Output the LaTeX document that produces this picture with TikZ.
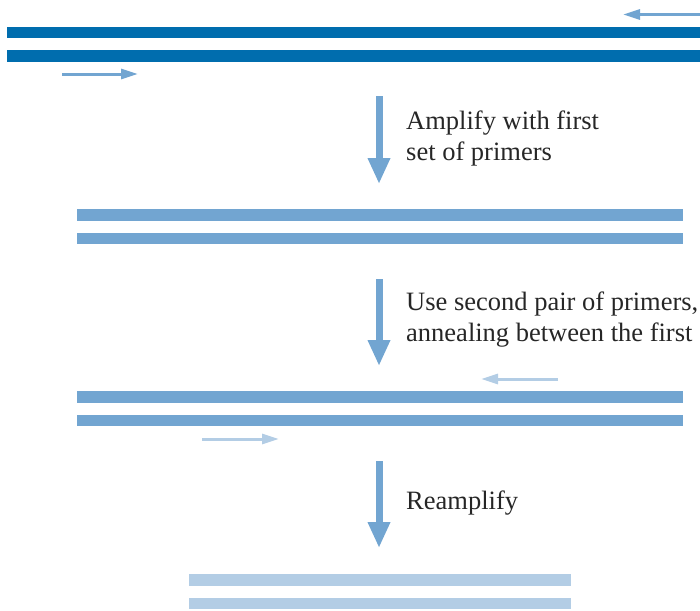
\documentclass[tikz,border=0pt]{standalone}
\usepackage{fontspec}
\setmainfont{Liberation Serif}
\usetikzlibrary{arrows.meta}
\definecolor{dnablue}{HTML}{006DAE}
\definecolor{midblue}{HTML}{72A5D1}
\definecolor{lightblue}{HTML}{B3CDE5}
\tikzset{
  bigarrow/.style={draw=midblue, line width=7pt, -{Triangle[width=21pt,length=26pt]}},
  primer/.style={line width=3pt, -{Triangle[width=10pt,length=17pt]}},
  label/.style={anchor=base west, align=left, inner sep=0pt, text=black!85,
    font=\fontsize{26.5}{31}\selectfont},
}
\begin{document}
\begin{tikzpicture}[x=1pt,y=-1pt]
\useasboundingbox (0,0) rectangle (700,610);
% first pair of strands
\fill[dnablue] (7,27) rectangle (700,38.5);
\fill[dnablue] (7,50.5) rectangle (700,62);
\coordinate (p1s) at (700,14.5);
\coordinate (p1e) at (623,14.5);
\draw[primer, midblue] (p1s) -- (p1e);
\coordinate (p2s) at (62,74);
\coordinate (p2e) at (138,74);
\draw[primer, midblue] (p2s) -- (p2e);
% step 1
\coordinate (a1s) at (379,96);
\coordinate (a1e) at (379,184);
\draw[bigarrow] (a1s) -- (a1e);
\node[label] (t1) at (406,160) {Amplify with first\\set of primers};
% second pair
\fill[midblue] (77,209) rectangle (683,220.5);
\fill[midblue] (77,232.5) rectangle (683,244);
% step 2
\coordinate (a2s) at (379,279);
\coordinate (a2e) at (379,366);
\draw[bigarrow] (a2s) -- (a2e);
\node[label] (t2) at (406,341) {Use second pair of primers,\\annealing between the first};
% third pair
\fill[midblue] (77,391) rectangle (683,402.5);
\fill[midblue] (77,414.5) rectangle (683,426);
\coordinate (p3s) at (558,379);
\coordinate (p3e) at (481,379);
\draw[primer, lightblue] (p3s) -- (p3e);
\coordinate (p4s) at (202,439);
\coordinate (p4e) at (279,439);
\draw[primer, lightblue] (p4s) -- (p4e);
% step 3
\coordinate (a3s) at (379,461);
\coordinate (a3e) at (379,548);
\draw[bigarrow] (a3s) -- (a3e);
\node[label] (t3) at (406,509) {Reamplify};
% fourth pair
\fill[lightblue] (189,574) rectangle (571,585.5);
\fill[lightblue] (189,597.5) rectangle (571,609);
\end{tikzpicture}
\end{document}
